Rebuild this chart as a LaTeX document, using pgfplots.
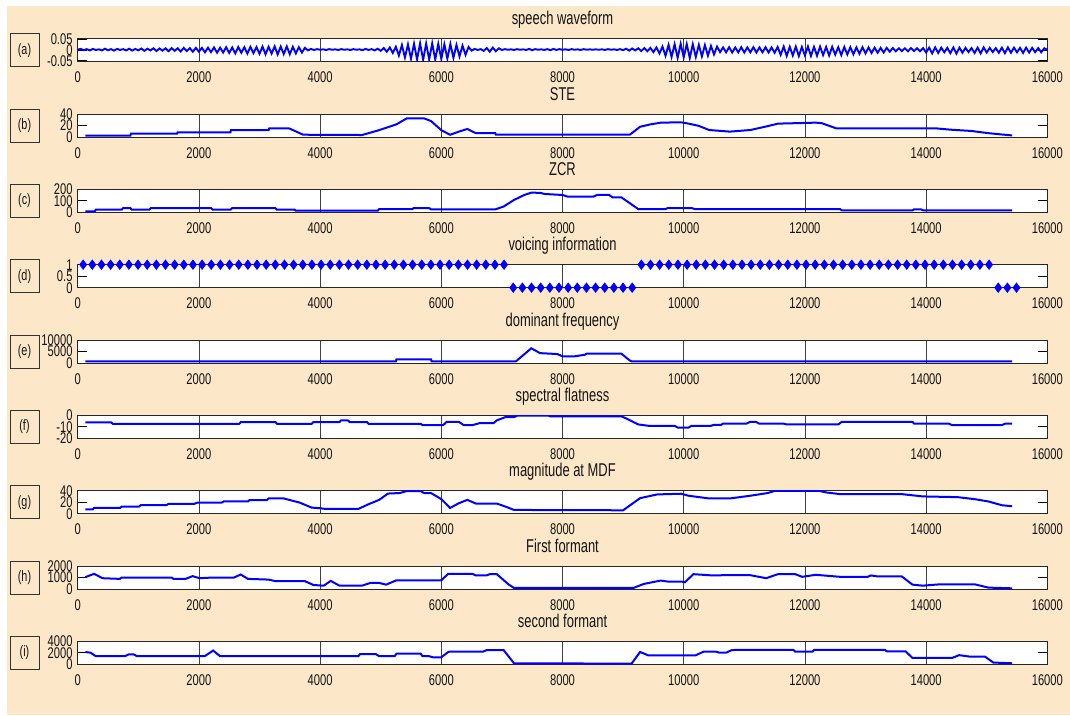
\documentclass[border=0pt]{standalone}
\usepackage{fontspec}
\setmainfont{Liberation Sans}
\newfontfamily\tickf{Liberation Sans}[FakeStretch=0.72]
\newfontfamily\titf{Liberation Sans}[FakeStretch=0.70]
\usepackage{pgfplots}
\pgfplotsset{compat=1.18}
\definecolor{bgbeige}{RGB}{252,232,201}
\pgfplotsset{
  sub/.style={
    scale only axis, width=969.6pt, height=23pt, anchor=south west,
    xmin=0, xmax=16000,
    scaled x ticks=false, scaled y ticks=false,
    xtick={0,2000,4000,6000,8000,10000,12000,14000,16000},
    xticklabels={0,2000,4000,6000,8000,10000,12000,14000,16000},
    xmajorgrids, grid style={black!75, line width=0.8pt},
    axis line style={line width=1pt, black!85},
    tick align=inside, major tick length=9pt,
    xtick style={draw=none},
    ytick style={black, line width=0.9pt},
    axis background/.style={fill=white},
    tick label style={font=\tickf\fontsize{15.5}{16}\selectfont, text=black!92},
    xticklabel style={anchor=north, inner sep=0pt, yshift=-10pt},
    yticklabel style={anchor=east, inner sep=0pt, xshift=-5pt},
    title style={font=\titf\fontsize{18.5}{20}\selectfont, text=black!92, at={(0.5,1)}, anchor=base, yshift=8pt},
  },
}
\tikzset{lbox/.style={draw=black!80, line width=1pt, minimum width=29pt, minimum height=33pt, inner sep=0pt,
    font=\tickf\fontsize{15}{16}\selectfont, text=black!92},
  curve/.style={blue, line width=2pt, mark=none}}
\begin{document}
\begin{tikzpicture}
\path (0pt,0pt) rectangle (1070pt,715pt);
\fill[bgbeige] (7pt,0pt) rectangle (1070pt,709pt);

% (a) speech waveform
\begin{axis}[sub, name=pa, at={(77.7pt,653.3pt)}, title={speech waveform},
  ymin=-0.054, ymax=0.054, ytick={-0.05,0,0.05}, yticklabels={-0.05,0,0.05}]
\addplot[curve, line width=1.9pt] table[row sep=\\, header=false, x expr=\coordindex*50, y index=0] {
0.003\\0.006\\0.000\\0.005\\-0.001\\0.006\\0.001\\0.004\\-0.001\\0.007\\
0.000\\0.005\\-0.002\\0.006\\0.001\\0.005\\-0.001\\0.007\\-0.002\\0.006\\
-0.001\\0.008\\-0.003\\0.007\\-0.001\\0.009\\-0.004\\0.008\\-0.002\\0.009\\
-0.005\\0.010\\-0.003\\0.009\\-0.006\\0.011\\-0.004\\0.010\\-0.007\\0.011\\
-0.007\\0.011\\-0.010\\0.012\\-0.009\\0.013\\-0.012\\0.012\\-0.011\\0.014\\
-0.013\\0.013\\-0.015\\0.015\\-0.012\\0.014\\-0.016\\0.016\\-0.014\\0.015\\
-0.017\\0.017\\-0.019\\0.016\\-0.016\\0.018\\-0.020\\0.017\\-0.018\\0.018\\
-0.019\\0.016\\-0.015\\0.014\\-0.011\\0.011\\
-0.001\\0.006\\0.001\\0.005\\0.002\\0.004\\0.001\\0.005\\0.002\\0.004\\
0.001\\0.005\\0.002\\0.004\\0.001\\0.005\\0.002\\0.004\\0.000\\0.006\\
0.001\\0.005\\-0.001\\0.007\\
-0.003\\0.010\\-0.007\\0.013\\-0.013\\0.016\\
-0.025\\0.024\\-0.034\\0.027\\-0.040\\0.030\\-0.043\\0.032\\-0.045\\0.031\\
-0.043\\0.032\\-0.044\\0.030\\-0.041\\0.028\\-0.040\\0.029\\-0.036\\0.025\\
-0.029\\0.021\\-0.022\\0.015\\
-0.002\\0.006\\0.001\\0.005\\-0.003\\0.010\\-0.007\\0.012\\-0.005\\0.009\\
0.001\\0.005\\0.002\\0.004\\0.001\\0.005\\0.002\\0.004\\0.001\\0.006\\
0.000\\0.005\\0.002\\0.004\\0.001\\0.005\\0.000\\0.006\\0.001\\0.005\\
0.002\\0.004\\0.001\\0.005\\0.002\\0.004\\0.001\\0.005\\0.002\\0.004\\
0.002\\0.004\\0.002\\0.004\\0.001\\0.005\\0.002\\0.004\\0.001\\0.005\\
0.000\\0.007\\-0.002\\0.008\\-0.001\\0.009\\-0.004\\0.010\\-0.005\\0.011\\
-0.009\\0.013\\-0.015\\0.017\\
-0.026\\0.025\\-0.032\\0.028\\-0.036\\0.030\\-0.034\\0.029\\-0.037\\0.028\\
-0.032\\0.025\\-0.029\\0.024\\-0.026\\0.020\\-0.020\\0.017\\
-0.009\\0.013\\-0.010\\0.014\\-0.011\\0.013\\-0.010\\0.014\\-0.011\\0.013\\
-0.010\\0.014\\-0.011\\0.013\\-0.010\\0.014\\-0.011\\0.013\\-0.012\\0.015\\
-0.022\\0.017\\-0.027\\0.016\\-0.025\\0.017\\-0.028\\0.015\\-0.024\\0.017\\
-0.027\\0.016\\-0.026\\0.017\\-0.023\\0.015\\-0.025\\0.016\\-0.021\\0.014\\
-0.023\\0.015\\-0.020\\0.014\\-0.019\\0.013\\-0.017\\0.014\\-0.015\\0.013\\
-0.013\\0.012\\-0.012\\0.011\\-0.011\\0.011\\
-0.007\\0.010\\-0.005\\0.009\\-0.004\\0.009\\-0.005\\0.010\\-0.004\\0.009\\
-0.005\\0.010\\
-0.011\\0.012\\-0.015\\0.013\\-0.013\\0.012\\-0.010\\0.011\\-0.014\\0.013\\
-0.016\\0.012\\-0.012\\0.011\\-0.009\\0.010\\-0.013\\0.012\\-0.015\\0.013\\
-0.011\\0.011\\-0.009\\0.010\\-0.012\\0.012\\-0.014\\0.013\\-0.012\\0.012\\
-0.010\\0.011\\-0.013\\0.012\\-0.011\\0.011\\-0.009\\0.010\\-0.010\\0.009\\
0.003\\
};
\end{axis}
\node[lbox] at ([xshift=-53.2pt]pa.west) {(a)};

% (b) STE
\begin{axis}[sub, name=pb, at={(77.7pt,577.97pt)}, title={STE},
  ymin=0, ymax=40, ytick={0,20,40}, yticklabels={0,20,40}]
\addplot[curve] coordinates {(125,2.5)(870,2.5)(880,6)(1640,6)(1650,8.3)(2520,8.3)(2530,12)(3150,12)(3160,15)(3490,15)(3720,4)(4690,3.5)(4800,6.7)(4975,12)(5260,22)(5430,32.5)(5715,32.5)(5830,27.8)(6000,12)(6145,3.9)(6290,9.4)(6430,14)(6570,6.7)(6890,6.7)(6900,4)(9110,4)(9280,17.8)(9450,22)(9620,25)(9960,25.6)(10080,23.3)(10250,19.4)(10420,12.2)(10760,9.4)(11100,12.2)(11385,18.9)(11555,23.3)(12180,25)(12280,24)(12520,15)(14170,15)(14400,12.8)(14740,10.6)(15030,6.7)(15250,4.4)(15420,2.8)};
\end{axis}
\node[lbox] at ([xshift=-53.2pt]pb.west) {(b)};

% (c) ZCR
\begin{axis}[sub, name=pc, at={(77.7pt,502.64pt)}, title={ZCR},
  ymin=0, ymax=200, ytick={0,100,200}, yticklabels={0,100,200}]
\addplot[curve] coordinates {(125,8.6)(280,8.6)(300,23)(725,23)(750,37)(870,37)(890,23)(1180,23)(1210,37)(2200,37)(2230,23)(2520,23)(2550,37)(3260,37)(3290,23)(3580,23)(3600,14)(4950,14)(4975,28.6)(5520,28.6)(5545,37)(5800,37)(5830,25.7)(6890,25.7)(7030,51)(7200,108)(7370,151)(7485,171)(7630,170)(7700,160)(8000,151)(8085,137)(8510,137)(8570,151)(8770,151)(8825,131)(8970,131)(9110,80)(9250,28.6)(9700,28.6)(9735,37)(10130,37)(10190,28.6)(12580,28.6)(12610,17)(13775,17)(13800,25.7)(13920,25.7)(13950,17)(15420,17)};
\end{axis}
\node[lbox] at ([xshift=-53.2pt]pc.west) {(c)};

% (d) voicing information
\begin{axis}[sub, name=pd, at={(77.7pt,427.31pt)}, title={voicing information},
  ymin=0, ymax=1, ytick={0,0.5,1}, yticklabels={0,0.5,1}, clip=false]
\addplot[only marks, mark=diamond*, mark size=4.6pt, mark options={fill=blue, draw=blue, line width=0.8pt}] coordinates {
(90,1)(241,1)(392,1)(543,1)(694,1)(845,1)(996,1)(1147,1)(1298,1)(1449,1)(1600,1)(1751,1)(1902,1)(2053,1)(2204,1)(2355,1)(2506,1)(2657,1)(2808,1)(2959,1)(3110,1)(3261,1)(3412,1)(3563,1)(3714,1)(3865,1)(4016,1)(4167,1)(4318,1)(4469,1)(4620,1)(4771,1)(4922,1)(5073,1)(5224,1)(5375,1)(5526,1)(5677,1)(5828,1)(5979,1)(6130,1)(6281,1)(6432,1)(6583,1)(6734,1)(6885,1)(7036,1)
(7187,0)(7338,0)(7489,0)(7640,0)(7791,0)(7942,0)(8093,0)(8244,0)(8395,0)(8546,0)(8697,0)(8848,0)(8999,0)(9150,0)
(9301,1)(9452,1)(9603,1)(9754,1)(9905,1)(10056,1)(10207,1)(10358,1)(10509,1)(10660,1)(10811,1)(10962,1)(11113,1)(11264,1)(11415,1)(11566,1)(11717,1)(11868,1)(12019,1)(12170,1)(12321,1)(12472,1)(12623,1)(12774,1)(12925,1)(13076,1)(13227,1)(13378,1)(13529,1)(13680,1)(13831,1)(13982,1)(14133,1)(14284,1)(14435,1)(14586,1)(14737,1)(14888,1)(15039,1)
(15190,0)(15341,0)(15492,0)};
\end{axis}
\node[lbox] at ([xshift=-53.2pt]pd.west) {(d)};

% (e) dominant frequency
\begin{axis}[sub, name=pe, at={(77.7pt,351.98pt)}, title={dominant frequency},
  ymin=0, ymax=10000, ytick={0,5000,10000}, yticklabels={0,5000,10000}]
\addplot[curve] coordinates {(125,700)(5250,700)(5260,1600)(5830,1600)(5840,700)(7230,700)(7485,6400)(7630,4300)(7915,3900)(8000,2900)(8200,2900)(8370,3600)(8400,4100)(8970,4100)(9110,1100)(9140,700)(15420,700)};
\end{axis}
\node[lbox] at ([xshift=-53.2pt]pe.west) {(e)};

% (f) spectral flatness
\begin{axis}[sub, name=pf, at={(77.7pt,276.65pt)}, title={spectral flatness},
  ymin=-20, ymax=0, ytick={-20,-10,0}, yticklabels={-20,-10,0}]
\addplot[curve] coordinates {(125,-6.2)(555,-6.2)(580,-7.4)(2665,-7.4)(2690,-5.9)(3265,-5.9)(3290,-7.4)(3860,-7.4)(3890,-5.9)(4320,-5.9)(4345,-4.4)(4460,-4.4)(4490,-5.9)(4775,-5.9)(4800,-7.4)(5660,-7.4)(5690,-8.5)(6030,-8.5)(6090,-5.6)(6290,-5.6)(6370,-8.5)(6515,-8.5)(6630,-6.8)(6860,-6.8)(6915,-4.4)(7060,-1.5)(7200,-1.5)(7255,-0.3)(7770,-0.3)(7800,-0.9)(8970,-0.9)(9050,-2.6)(9250,-7.9)(9420,-9.1)(9850,-9.1)(9900,-10.6)(10080,-10.6)(10130,-9.1)(10450,-9.1)(10500,-8.2)(10620,-8.2)(10650,-7.1)(11040,-7.1)(11100,-5.6)(11190,-5.6)(11240,-7.1)(11640,-7.1)(11700,-7.9)(12550,-7.9)(12610,-5.6)(13775,-5.6)(13800,-7.1)(14370,-7.1)(14430,-8.5)(15250,-8.5)(15310,-7.1)(15420,-7.1)};
\end{axis}
\node[lbox] at ([xshift=-53.2pt]pf.west) {(f)};

% (g) magnitude at MDF
\begin{axis}[sub, name=pg, at={(77.7pt,201.32pt)}, title={magnitude at MDF},
  ymin=0, ymax=40, ytick={0,20,40}, yticklabels={0,20,40}]
\addplot[curve] coordinates {(125,7.6)(250,7.6)(270,10)(700,10)(725,12.3)(1010,12.3)(1040,14.7)(1465,14.7)(1495,17)(1920,17)(1980,19.4)(2380,19.4)(2410,21.2)(2810,21.2)(2835,23.5)(3120,23.5)(3150,26.5)(3400,26.5)(3490,24)(3660,19.4)(3860,10.6)(4005,9.4)(4090,8.2)(4630,8.2)(4800,16.5)(4975,24)(5120,35)(5315,35.9)(5430,39.4)(5660,39.4)(5715,35.9)(5830,35.9)(6000,25.3)(6145,10)(6290,18.2)(6430,24)(6570,17.6)(6915,17.6)(7060,12.3)(7200,6.5)(9000,5.9)(9280,27)(9565,33.5)(9960,34.7)(10080,31.2)(10420,26.5)(10760,26.5)(11100,31.2)(11385,35.9)(11500,39.5)(12240,39.5)(12350,37)(12580,34)(13600,34)(13945,30)(14515,28.8)(14800,25.3)(15030,21.2)(15250,14.7)(15420,12.9)};
\end{axis}
\node[lbox] at ([xshift=-53.2pt]pg.west) {(g)};

% (h) First formant
\begin{axis}[sub, name=ph, at={(77.7pt,125.99pt)}, title={First formant},
  ymin=0, ymax=2000, ytick={0,1000,2000}, yticklabels={0,1000,2000}]
\addplot[curve] coordinates {(125,1030)(270,1320)(410,940)(695,880)(725,1000)(1550,1000)(1580,880)(1780,880)(1895,1120)(2010,940)(2235,1000)(2580,1000)(2690,1260)(2810,880)(3150,820)(3265,680)(3750,680)(3890,350)(4060,290)(4175,705)(4320,290)(4690,290)(4830,530)(4975,530)(5090,380)(5260,760)(6000,760)(6115,1320)(6515,1320)(6570,1180)(6745,1180)(6800,1290)(6915,1290)(7115,380)(7200,90)(9170,90)(9340,440)(9620,735)(9735,650)(9960,650)(10020,590)(10160,1290)(10475,1180)(10650,1200)(11100,1200)(11360,940)(11555,1290)(11840,1290)(11955,1060)(12180,1235)(12580,1060)(13035,1060)(13090,1180)(13205,1090)(13600,1090)(13775,380)(13945,290)(14230,410)(14800,410)(15030,120)(15420,60)};
\end{axis}
\node[lbox] at ([xshift=-53.2pt]ph.west) {(h)};

% (i) second formant
\begin{axis}[sub, name=pii, at={(77.7pt,50.66pt)}, title={second formant},
  ymin=0, ymax=4000, ytick={0,2000,4000}, yticklabels={0,2000,4000}]
\addplot[curve] coordinates {(125,2150)(210,2030)(300,1415)(780,1415)(840,1720)(925,1720)(980,1415)(2095,1415)(2235,2400)(2350,1415)(4630,1415)(4660,1785)(4920,1785)(4975,1415)(5230,1415)(5260,1845)(5660,1845)(5690,1415)(5800,1415)(5860,1230)(6000,1230)(6115,2150)(6145,2215)(6690,2215)(6745,2460)(7030,2460)(7200,185)(9140,120)(9280,2150)(9420,1540)(10190,1540)(10330,2215)(10530,2215)(10590,2030)(10700,2030)(10790,2460)(10875,2520)(11810,2520)(11840,2215)(12125,2215)(12155,2520)(13320,2520)(13350,2275)(13660,2275)(13775,1110)(14430,1110)(14545,1600)(14715,1350)(14970,1350)(15110,310)(15420,185)};
\end{axis}
\node[lbox] at ([xshift=-53.2pt]pii.west) {(i)};
\end{tikzpicture}
\end{document}
